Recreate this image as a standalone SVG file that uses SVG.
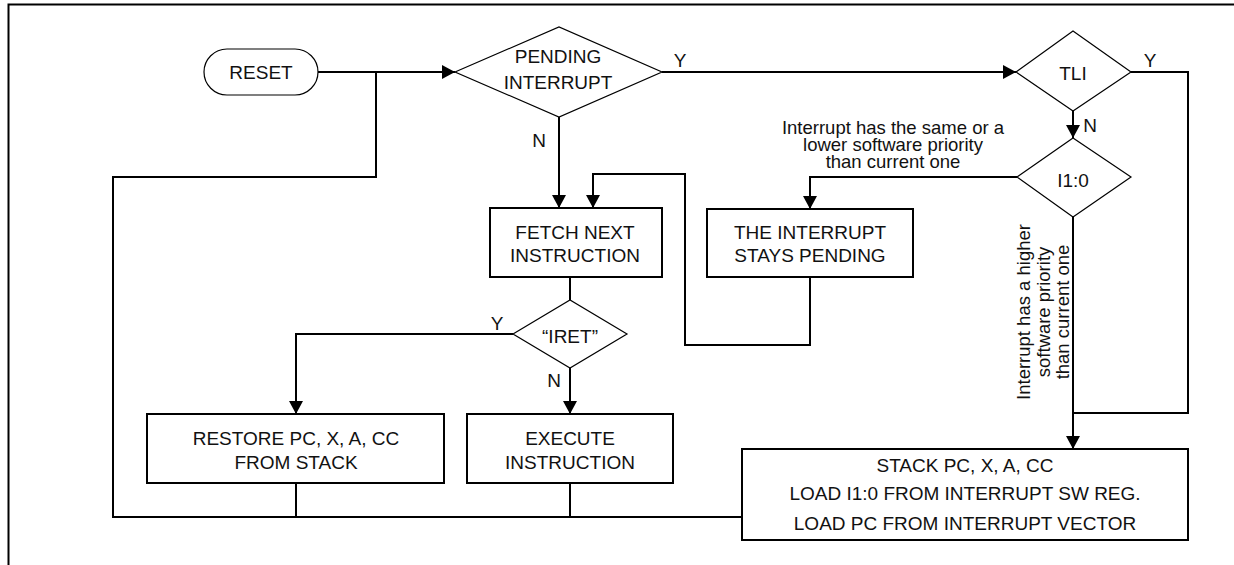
<svg xmlns="http://www.w3.org/2000/svg" width="1234" height="565" viewBox="0 0 1234 565">
<style>
  text{font-family:"Liberation Sans",Arial,sans-serif;font-size:19px;fill:#111;text-anchor:middle}
  .lbl{font-size:18.5px}
  .box{fill:#fff;stroke:#000;stroke-width:2}
  .dia{fill:#fff;stroke:#000;stroke-width:1.2}
  .term{fill:#fff;stroke:#000;stroke-width:1.2}
  .wire{fill:none;stroke:#000;stroke-width:2}
  .frame{fill:none;stroke:#000;stroke-width:2}
</style>
<defs>
  <marker id="arr" viewBox="0 0 13 14" refX="13" refY="7" markerWidth="13" markerHeight="14" markerUnits="userSpaceOnUse" orient="auto">
    <path d="M0,0 L13,7 L0,14 z" fill="#000"/>
  </marker>
</defs>
<rect width="1234" height="565" fill="#fff"/>
<path class="frame" d="M8.5,565 V4.5 H1234"/>

<g id="connectors">
  <path class="wire" d="M318,72 H455" marker-end="url(#arr)"/>
  <path class="wire" d="M742,517 H113 V177 H376 V72"/>
  <path class="wire" d="M662,72 H1016" marker-end="url(#arr)"/>
  <path class="wire" d="M559,117 V208" marker-end="url(#arr)"/>
  <path class="wire" d="M810,277 V345 H685 V174 H593 V208" marker-end="url(#arr)"/>
  <path class="wire" d="M570,277 V300"/>
  <path class="wire" d="M513,334 H296 V414" marker-end="url(#arr)"/>
  <path class="wire" d="M570,368 V414" marker-end="url(#arr)"/>
  <path class="wire" d="M1073,111 V138" marker-end="url(#arr)"/>
  <path class="wire" d="M1017,177 H810 V209" marker-end="url(#arr)"/>
  <path class="wire" d="M1073,217 V449" marker-end="url(#arr)"/>
  <path class="wire" d="M1131,72 H1188 V413 H1073"/>
  <path class="wire" d="M296,483 V517"/>
  <path class="wire" d="M570,483 V517"/>
  <text x="680" y="67">Y</text>
  <text x="539" y="147">N</text>
  <text x="497" y="330">Y</text>
  <text x="554" y="387">N</text>
  <text x="1150" y="67">Y</text>
  <text x="1090" y="132">N</text>
  <text class="lbl" x="893" y="134">Interrupt has the same or a<tspan x="893" dy="17">lower software priority</tspan><tspan x="893" dy="17">than current one</tspan></text>
  <text class="lbl" transform="translate(1030,312) rotate(-90)" x="0" y="0">Interrupt has a higher<tspan x="0" dy="19.5">software priority</tspan><tspan x="0" dy="19.5">than current one</tspan></text>
</g>

<g id="reset">
  <rect class="term" x="204" y="49" width="114" height="46" rx="23"/>
  <text x="261" y="79">RESET</text>
</g>
<g id="pending">
  <polygon class="dia" points="455,72 559,27 662,72 559,117"/>
  <text x="558" y="63">PENDING</text>
  <text x="558" y="89">INTERRUPT</text>
</g>
<g id="tli">
  <polygon class="dia" points="1016,72 1073,31 1131,72 1073,111"/>
  <text x="1073" y="80">TLI</text>
</g>
<g id="i10">
  <polygon class="dia" points="1017,177 1073,138 1131,177 1073,217"/>
  <text x="1073" y="187">I1:0</text>
</g>
<g id="fetch">
  <rect class="box" x="490" y="208" width="172" height="69"/>
  <text x="575" y="239">FETCH NEXT</text>
  <text x="575" y="262">INSTRUCTION</text>
</g>
<g id="stays">
  <rect class="box" x="707" y="209" width="206" height="68"/>
  <text x="810" y="239">THE INTERRUPT</text>
  <text x="810" y="262">STAYS PENDING</text>
</g>
<g id="iret">
  <polygon class="dia" points="513,334 570,300 627,334 570,368"/>
  <text x="570" y="343">“IRET”</text>
</g>
<g id="restore">
  <rect class="box" x="147" y="414" width="297" height="69"/>
  <text x="296" y="445">RESTORE PC, X, A, CC</text>
  <text x="296" y="469">FROM STACK</text>
</g>
<g id="execute">
  <rect class="box" x="467" y="414" width="206" height="69"/>
  <text x="570" y="445">EXECUTE</text>
  <text x="570" y="469">INSTRUCTION</text>
</g>
<g id="stack">
  <rect class="box" x="742" y="449" width="446" height="91"/>
  <text x="965" y="472">STACK PC, X, A, CC</text>
  <text x="965" y="500">LOAD I1:0 FROM INTERRUPT SW REG.</text>
  <text x="965" y="530">LOAD PC FROM INTERRUPT VECTOR</text>
</g>
</svg>
